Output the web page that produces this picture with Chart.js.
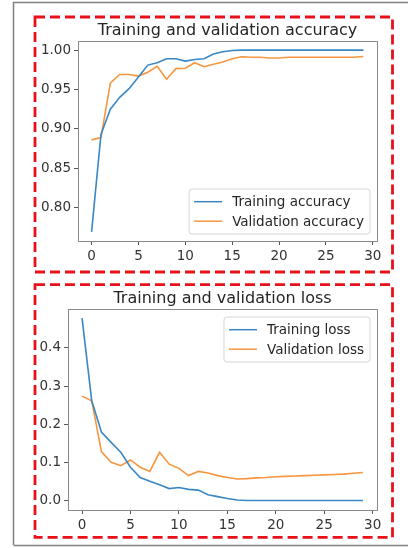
<!DOCTYPE html>
<html>
<head>
<meta charset="utf-8">
<script src="https://cdn.jsdelivr.net/npm/chart.js@4"></script>
<style>
  html, body { margin: 0; padding: 0; background: #fff; }
  body { width: 408px; height: 548px; position: relative; overflow: hidden; }
  canvas { position: absolute; }
  #frame { position: absolute; left: 0; top: 0; }
</style>
</head>
<body>
<svg id="frame" width="408" height="548">
  <path d="M13.5 545 L13.5 2.5 L410 2.5" fill="none" stroke="#808080" stroke-width="1.5"/>
  <path d="M13.5 545.5 L410 545.5" fill="none" stroke="#808080" stroke-width="1.5"/>
  <rect x="35" y="17" width="357.5" height="255" fill="none" stroke="#e8101a" stroke-width="2.8" stroke-dasharray="10 5"/>
  <rect x="35" y="284.7" width="357.5" height="252.6" fill="none" stroke="#e8101a" stroke-width="2.8" stroke-dasharray="10 5"/>
</svg>
<canvas id="accChart" width="354" height="252" style="left:37px;top:19px"></canvas>
<canvas id="lossChart" width="354" height="250" style="left:37px;top:286px"></canvas>
<script>
var epochs = [0, 1, 2, 3, 4, 5, 6, 7, 8, 9, 10, 11, 12, 13, 14, 15, 16, 17, 18, 19, 20, 21, 22, 23, 24, 25, 26, 27, 28, 29];

var trainAcc = [0.769, 0.893, 0.925, 0.940, 0.951, 0.966, 0.981, 0.984, 0.989, 0.989,
                0.986, 0.988, 0.989, 0.995, 0.998, 0.9995, 1.000, 1.000, 1.000, 1.000,
                1.000, 1.000, 1.000, 1.000, 1.000, 1.000, 1.000, 1.000, 1.000, 1.000];
var valAcc = [0.886, 0.889, 0.958, 0.969, 0.969, 0.967, 0.972, 0.9795, 0.963, 0.9765,
              0.977, 0.984, 0.979, 0.982, 0.985, 0.989, 0.9915, 0.991, 0.991, 0.990,
              0.990, 0.991, 0.991, 0.991, 0.991, 0.991, 0.991, 0.991, 0.991, 0.992];

var trainLoss = [0.478, 0.262, 0.180, 0.153, 0.127, 0.088, 0.061, 0.051, 0.042, 0.032,
                 0.035, 0.030, 0.028, 0.016, 0.011, 0.006, 0.002, 0.001, 0.001, 0.001,
                 0.001, 0.001, 0.001, 0.001, 0.001, 0.001, 0.001, 0.001, 0.001, 0.001];
var valLoss = [0.274, 0.262, 0.129, 0.101, 0.092, 0.107, 0.088, 0.077, 0.127, 0.096,
               0.085, 0.066, 0.077, 0.073, 0.066, 0.061, 0.057, 0.058, 0.060, 0.061,
               0.063, 0.064, 0.065, 0.066, 0.067, 0.068, 0.069, 0.070, 0.072, 0.074];

var xTicks = [0, 5, 10, 15, 20, 25, 30];
var accTicks = [0.80, 0.85, 0.90, 0.95, 1.00];
var lossTicks = [0.0, 0.1, 0.2, 0.3, 0.4];

var blue = '#3a87c4';
var orange = '#f7963f';
var FONT = '"DejaVu Sans", sans-serif';

function pts(ys) {
    return epochs.map(function (e, i) { return { x: e, y: ys[i] }; });
}

// frame, title and matplotlib-like legend
const decor = {
    id: 'decor',
    afterDraw(chart, args, opts) {
        var ctx = chart.ctx, a = chart.chartArea;
        ctx.save();
        ctx.strokeStyle = '#8a8a8a';
        ctx.lineWidth = 1;
        ctx.strokeRect(Math.round(a.left) + 0.5, Math.round(a.top) + 0.5,
                       Math.round(a.right - a.left), Math.round(a.bottom - a.top));

        ctx.fillStyle = '#262626';
        ctx.font = '16px ' + FONT;
        ctx.textAlign = 'center';
        ctx.textBaseline = 'alphabetic';
        ctx.fillText(opts.title, (a.left + a.right) / 2, a.top - 6);

        ctx.font = '13.5px ' + FONT;
        var ds = chart.data.datasets;
        var tw = 0;
        ds.forEach(function (d) { tw = Math.max(tw, ctx.measureText(d.label).width); });
        var w = 5 + 28 + 10 + tw + 6, h = 45;
        var x = a.right - 7 - w;
        var y = opts.corner === 'bottom' ? a.bottom - 7 - h : a.top + 8;
        ctx.beginPath();
        ctx.roundRect(x, y, w, h, 3);
        ctx.fillStyle = 'rgba(255,255,255,0.85)';
        ctx.fill();
        ctx.strokeStyle = '#d6d6d6';
        ctx.stroke();
        ctx.textAlign = 'left';
        ctx.textBaseline = 'middle';
        ds.forEach(function (d, i) {
            var ry = y + 12.7 + i * 19.5;
            ctx.strokeStyle = d.borderColor;
            ctx.lineWidth = 1.5;
            ctx.beginPath();
            ctx.moveTo(x + 5, ry);
            ctx.lineTo(x + 33, ry);
            ctx.stroke();
            ctx.fillStyle = '#262626';
            ctx.fillText(d.label, x + 43, ry + 1);
        });
        ctx.restore();
    }
};

function axis(min, max, tickList, digits, size, isX) {
    return {
        type: 'linear',
        min: min,
        max: max,
        afterBuildTicks: function (s) { s.ticks = tickList.map(function (v) { return { value: v }; }); },
        afterFit: function (s) { if (isX) s.height = size; else s.width = size; },
        ticks: {
            autoSkip: false,
            maxRotation: 0,
            padding: 3,
            color: '#333',
            font: { family: FONT, size: 13.5 },
            callback: function (v) { return digits === 0 ? String(v) : Number(v).toFixed(digits); }
        },
        grid: { drawOnChartArea: false, drawTicks: true, tickLength: 4, color: '#555' },
        border: { display: false }
    };
}

function makeChart(id, series, labels, yMin, yMax, yTicks, digits, yWidth, xHeight, padTop, title, corner) {
    return new Chart(document.getElementById(id), {
        type: 'line',
        data: {
            datasets: [{
                label: labels[0],
                data: pts(series[0]),
                borderColor: blue,
                borderWidth: 1.6,
                pointRadius: 0,
                tension: 0
            }, {
                label: labels[1],
                data: pts(series[1]),
                borderColor: orange,
                borderWidth: 1.6,
                pointRadius: 0,
                tension: 0
            }]
        },
        options: {
            responsive: false,
            animation: false,
            devicePixelRatio: 1,
            layout: { padding: { top: padTop, right: 14, left: 0, bottom: 0 } },
            scales: {
                x: axis(-1.45, 30.45, xTicks, 0, xHeight, true),
                y: axis(yMin, yMax, yTicks, digits, yWidth, false)
            },
            plugins: {
                legend: { display: false },
                tooltip: { enabled: false },
                decor: { title: title, corner: corner }
            }
        },
        plugins: [decor]
    });
}

makeChart('accChart', [trainAcc, valAcc], ['Training accuracy', 'Validation accuracy'],
          0.7575, 1.0116, accTicks, 2, 41, 30, 22, 'Training and validation accuracy', 'bottom');
makeChart('lossChart', [trainLoss, valLoss], ['Training loss', 'Validation loss'],
          -0.024, 0.502, lossTicks, 1, 31, 26, 23, 'Training and validation loss', 'top');
</script>
</body>
</html>
